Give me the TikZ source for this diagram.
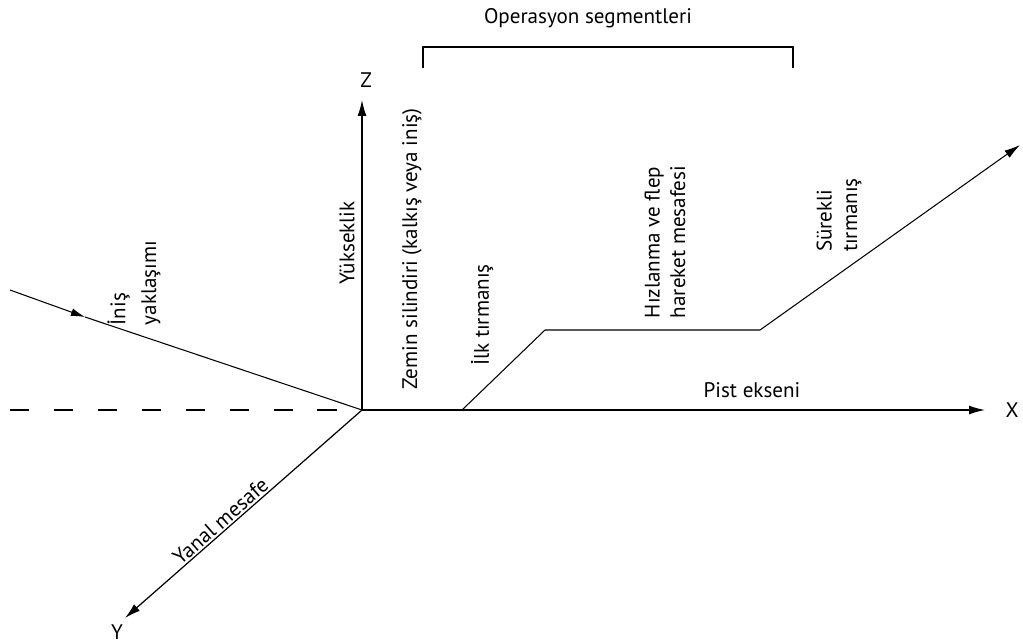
\documentclass[tikz,border=0pt]{standalone}
\usepackage{fontspec}
\setmainfont{PT Sans}
\usetikzlibrary{arrows.meta}

\begin{document}
\begin{tikzpicture}[
    x=0.02cm, y=-0.02cm,
    axis/.style={-{Latex[length=9pt,width=5pt]}, line width=0.7pt},
    track/.style={line width=0.6pt},
    bracket/.style={line width=1.1pt},
    txt/.style={font=\fontsize{12}{14.5}\selectfont, inner sep=1pt},
    vtxt/.style={txt, rotate=90, align=left}
]
    \useasboundingbox (0,0) rectangle (1023,643);

    % axes
    \coordinate (O) at (362,410);
    \coordinate (xtip) at (985,410);
    \coordinate (ztip) at (362,100);
    \coordinate (ytip) at (125,618);
    \coordinate (far) at (10,410);
    \draw[axis] (O) -- (xtip);
    \draw[axis] (O) -- (ztip);
    \draw[axis] (O) -- (ytip);
    \draw[track, dash pattern=on 11pt off 14pt] (far) -- (O);

    \node[txt] (xl) at (1012,410) {X};
    \node[txt] (zl) at (366,80) {Z};
    \node[txt] (yl) at (117,632) {Y};

    % approach path
    \coordinate (app) at (10,290);
    \coordinate (appmid) at (85,317);
    \draw[track, -{Latex[length=8pt,width=4.5pt]}] (app) -- (appmid);
    \draw[track] (appmid) -- (O);

    % departure path
    \coordinate (roll) at (462,410);
    \coordinate (lvl) at (545,330);
    \coordinate (lvlend) at (760,330);
    \coordinate (dep) at (1020,145);
    \draw[track, -{Latex[length=9pt,width=5pt]}] (roll) -- (lvl) -- (lvlend) -- (dep);

    % segment bracket
    \coordinate (bl) at (423,68);
    \coordinate (br) at (793,68);
    \draw[bracket] (bl) -- (423,47) -- (793,47) -- (br);
    \node[txt] (ops) at (588,18) {Operasyon segmentleri};

    % labels
    \node[vtxt] (yuk) at (347,243) {Yükseklik};
    \node[vtxt] (zemin) at (412,249) {Zemin silindiri (kalkış veya iniş)};
    \node[vtxt] (ilk) at (482,315) {İlk tırmanış};
    \node[vtxt] (hiz) at (665,242) {Hızlanma ve flep\\hareket mesafesi};
    \node[vtxt] (sur) at (839,215) {Sürekli\\tırmanış};
    \node[vtxt] (inis) at (134,283) {İniş\\[3pt]yaklaşımı};
    \node[txt] (pist) at (752,390) {Pist ekseni};
    \path (ytip) -- (O) node[txt, pos=0.43, sloped, above] (yanal) {Yanal mesafe};
\end{tikzpicture}
\end{document}
